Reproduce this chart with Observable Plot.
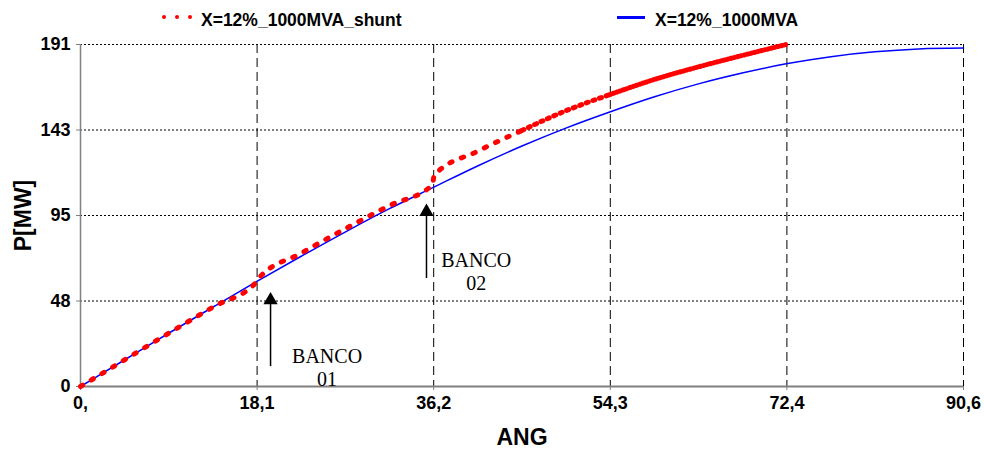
<!DOCTYPE html>
<html>
<head>
<meta charset="utf-8">
<script src="https://cdn.jsdelivr.net/npm/d3@7"></script>
<script src="https://cdn.jsdelivr.net/npm/@observablehq/plot@0.6"></script>
<style>
  html, body { margin: 0; padding: 0; background: #fff; }
  #wrap { width: 984px; position: relative; font-family: "Liberation Sans", Arial, sans-serif; }
  #legend { position: relative; width: 984px; height: 30px; }
  .lg { position: absolute; font-weight: bold; font-size: 17.5px; line-height: 18px; white-space: nowrap; color: #000; }
  .rd { position: absolute; width: 4px; height: 4px; border-radius: 50%; background: #ff0000; }
  .bl { position: absolute; height: 3px; background: #0000ff; }
</style>
</head>
<body>
<div id="wrap">
  <div id="legend">
    <div class="rd" style="left:162px;top:15px"></div>
    <div class="rd" style="left:175px;top:15px"></div>
    <div class="rd" style="left:188px;top:15px"></div>
    <div class="lg" style="left:201px;top:11px">X=12%_1000MVA_shunt</div>
    <div class="bl" style="left:617px;top:16px;width:28px"></div>
    <div class="lg" style="left:655px;top:11px">X=12%_1000MVA</div>
  </div>
  <div id="chart"></div>
</div>
<script>
// Axis ticks
const angTicks = [0, 18.12, 36.24, 54.36, 72.48, 90.6];
const angLabels = ["0,", "18,1", "36,2", "54,3", "72,4", "90,6"];
const pTicks = [0, 47.75, 95.5, 143.25, 191];
const pLabels = ["0", "48", "95", "143", "191"];

// Series: X=12%_1000MVA (blue)
const baseAng = [0, 4.5, 9, 13.6, 18.1, 22.6, 27.2, 31.7, 36.2, 40.8, 45.3, 49.8, 54.3, 58.9, 63.4, 68, 72.4, 77, 81.5, 86, 90.6];
const baseP   = [0, 14.8, 29.6, 44.4, 58.7, 72.6, 86.4, 99.3, 111.2, 123.3, 134.3, 144.3, 153.3, 161.8, 169, 175.2, 180.2, 184.2, 186.9, 188.5, 189];

// Series: X=12%_1000MVA_shunt (red)
const shuntAng = [0, 4.5, 9, 13.6, 18.1, 18.3, 22.6, 27.2, 31.7, 36.1, 36.3, 40.8, 45.3, 49.8, 54.3, 58.9, 63.4, 68, 72.4];
const shuntP   = [0, 14.8, 29.6, 44.4, 58.7, 60.5, 74.3, 88.2, 101, 112.6, 118, 131.5, 143, 154, 163, 171.5, 178.5, 185, 191];

// Annotations (bank insertions)
const arrowAng = [19.5, 35.5];
const arrowTail = [15.6, 64.8];
const arrowTip = [52.7, 102];
const noteAng = [25.3, 40.6];
const noteP = [10.9, 64.6];
const noteText = ["BANCO\n01", "BANCO\n02"];

const base = baseAng.map((a, i) => ({ang: a, p: baseP[i]}));
const shunt = shuntAng.map((a, i) => ({ang: a, p: shuntP[i]}));
const shuntA = shunt.filter(d => d.ang <= 45.3);
const shuntB = shunt.filter(d => d.ang >= 45.3 && d.ang <= 54.3);
const shuntC = shunt.filter(d => d.ang >= 54.3);
const arrows = arrowAng.map((a, i) => ({ang: a, p1: arrowTail[i], p2: arrowTip[i]}));
const notes = noteAng.map((a, i) => ({ang: a, p: noteP[i], t: noteText[i]}));

const chart = Plot.plot({
  width: 984,
  height: 419,
  marginLeft: 80,
  marginRight: 21,
  marginTop: 14,
  marginBottom: 63,
  style: {fontFamily: "'Liberation Sans', Arial, sans-serif", fontWeight: "bold", background: "#fff", overflow: "visible"},
  x: {domain: [0, 90.6]},
  y: {domain: [0, 191]},
  marks: [
    Plot.ruleY(pTicks.slice(1), {stroke: "#000", strokeWidth: 1, strokeDasharray: "2,2"}),
    Plot.ruleX(angTicks.slice(1), {stroke: "#000", strokeWidth: 1, strokeDasharray: "9,5"}),
    Plot.ruleX([0], {stroke: "#808080", strokeWidth: 1.5}),
    Plot.ruleY([0], {stroke: "#808080", strokeWidth: 2}),
    Plot.axisY({ticks: pTicks, tickFormat: d => pLabels[pTicks.indexOf(d)], tickSize: 4, tickPadding: 6, fontSize: 18, label: null, stroke: "#808080", fill: "#000"}),
    Plot.axisX({ticks: angTicks, tickFormat: d => angLabels[angTicks.indexOf(d)], tickSize: 4, tickPadding: 6, fontSize: 18, label: null, stroke: "#808080", fill: "#000"}),
    Plot.line(base, {x: "ang", y: "p", stroke: "#0000ff", strokeWidth: 1.5, curve: "monotone-x"}),
    Plot.line(shuntA, {x: "ang", y: "p", stroke: "#ff0000", strokeWidth: 5, strokeDasharray: "2.5,10", strokeLinecap: "round", curve: "monotone-x"}),
    Plot.line(shuntB, {x: "ang", y: "p", stroke: "#ff0000", strokeWidth: 5, strokeDasharray: "2,5", strokeLinecap: "round", curve: "monotone-x"}),
    Plot.line(shuntC, {x: "ang", y: "p", stroke: "#ff0000", strokeWidth: 5, strokeDasharray: "1,2.5", strokeLinecap: "round", curve: "monotone-x"}),
    Plot.ruleX(arrows, {x: "ang", y1: "p1", y2: "p2", stroke: "#000", strokeWidth: 1.5, dy: 8}),
    Plot.dot(arrows, {x: "ang", y: "p2", symbol: "triangle", r: 5.3, fill: "#000", stroke: null, dy: 8}),
    Plot.text(notes, {x: "ang", y: "p", text: "t", fontFamily: "'Liberation Serif', 'Times New Roman', serif", fontSize: 20, fontWeight: "normal", lineHeight: 1.15, textAnchor: "middle", lineAnchor: "middle", fill: "#000"}),
    Plot.text(["ANG"], {frameAnchor: "bottom", dy: 51, fontSize: 23, fontWeight: "bold", lineAnchor: "middle", textAnchor: "middle", fill: "#000"}),
    Plot.text(["P[MW]"], {frameAnchor: "left", rotate: -90, dx: -56.5, fontSize: 23, fontWeight: "bold", lineAnchor: "middle", textAnchor: "middle", fill: "#000"})
  ]
});
document.getElementById("chart").appendChild(chart);
</script>
</body>
</html>
